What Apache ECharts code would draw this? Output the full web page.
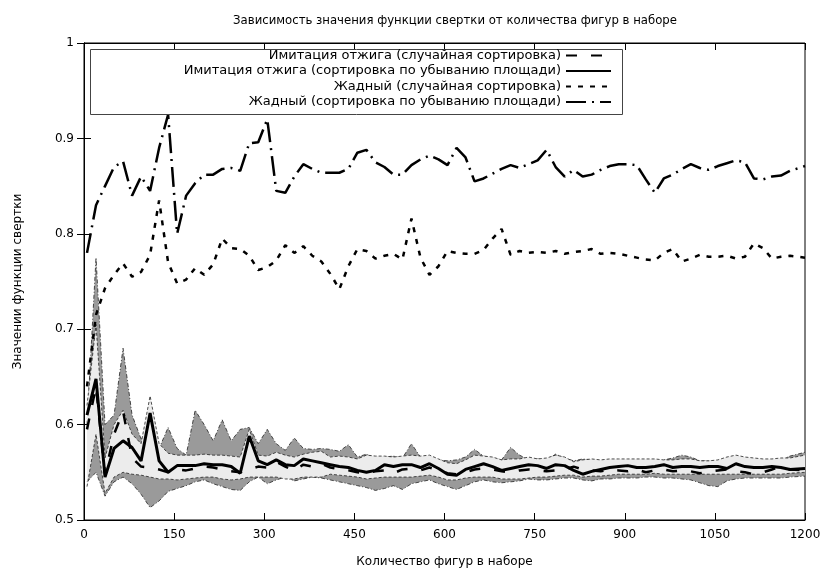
<!DOCTYPE html>
<html>
<head>
<meta charset="utf-8">
<script src="https://cdn.jsdelivr.net/npm/echarts@6/dist/echarts.min.js"></script>
<style>
  html, body { margin: 0; padding: 0; background: #fff; }
  #chart { width: 826px; height: 573px; }
</style>
</head>
<body>
<div id="chart"></div>
<script>
// Number of shapes in a set
const shapeCounts = [5, 20, 35, 50, 65, 80, 95, 110, 125, 140, 155, 170, 185, 200, 215, 230, 245, 260, 275, 290,
  305, 320, 335, 350, 365, 380, 395, 410, 425, 440, 455, 470, 485, 500, 515, 530, 545, 560, 575, 590,
  605, 620, 635, 650, 665, 680, 695, 710, 725, 740, 755, 770, 785, 800, 815, 830, 845, 860, 875, 890,
  905, 920, 935, 950, 965, 980, 995, 1010, 1025, 1040, 1055, 1070, 1085, 1100, 1115, 1130, 1145, 1160, 1175, 1200];

// Simulated annealing, random order
const annealRandom = [.595, .64, .548, .59, .614, .565, .556, .555, .553, .55, .553, .552, .554, .556, .555, .553, .551, .55, .553, .556,
  .555, .561, .556, .552, .558, .556, .559, .555, .553, .552, .55, .549, .551, .552, .549, .553, .554, .552, .555, .552,
  .549, .548, .55, .553, .554, .553, .551, .55, .552, .553, .552, .551, .552, .553, .556, .553, .552, .551, .553, .552,
  .551, .553, .55, .552, .553, .551, .552, .551, .549, .551, .552, .553, .551, .55, .548, .55, .553, .556, .553, .552];

// Simulated annealing, sorted by decreasing area
const annealSorted = [.61, .648, .545, .575, .583, .576, .562, .612, .562, .55, .557, .557, .557, .559, .558, .558, .556, .549, .588, .562,
  .558, .563, .558, .557, .564, .562, .56, .558, .556, .555, .552, .55, .552, .558, .556, .558, .558, .555, .559, .554,
  .548, .547, .553, .556, .559, .556, .552, .554, .556, .558, .557, .554, .558, .557, .552, .548, .551, .553, .555, .556,
  .557, .555, .555, .556, .558, .555, .556, .556, .555, .556, .556, .554, .559, .556, .555, .555, .556, .555, .553, .554];

// Greedy, random order
const greedyRandom = [.64, .715, .743, .757, .769, .755, .76, .778, .835, .77, .748, .752, .764, .757, .768, .795, .785, .784, .777, .762,
  .765, .772, .788, .78, .787, .777, .771, .758, .742, .766, .784, .782, .774, .777, .779, .773, .816, .775, .757, .766,
  .782, .78, .779, .779, .783, .795, .805, .778, .782, .78, .781, .78, .782, .779, .781, .782, .784, .779, .78, .779,
  .777, .775, .773, .772, .78, .784, .771, .774, .778, .776, .776, .777, .774, .776, .79, .785, .774, .776, .777, .775];

// Greedy, sorted by decreasing area
const greedySorted = [.78, .83, .85, .87, .876, .84, .86, .845, .89, .925, .80, .84, .853, .862, .862, .868, .869, .866, .895, .896,
  .92, .845, .843, .86, .873, .868, .864, .864, .864, .868, .885, .888, .875, .87, .862, .862, .872, .878, .882, .878,
  .872, .89, .88, .855, .858, .863, .868, .872, .869, .873, .877, .888, .87, .86, .867, .86, .862, .867, .871, .873,
  .873, .872, .857, .843, .858, .862, .868, .873, .869, .867, .871, .874, .877, .875, .858, .857, .86, .861, .866, .871];

// Spread of the annealing results (outer and inner bands)
const outerLow = [.54, .55, .525, .54, .545, .538, .527, .513, .52, .53, .533, .536, .54, .542, .538, .535, .532, .531, .54, .545,
  .538, .542, .545, .541, .543, .545, .544, .542, .54, .538, .536, .534, .531, .533, .536, .532, .538, .54, .542, .538,
  .535, .532, .536, .54, .542, .54, .539, .54, .541, .543, .542, .542, .543, .544, .544, .542, .541, .543, .543, .544,
  .544, .544, .545, .545, .544, .544, .543, .542, .539, .536, .535, .541, .543, .544, .544, .544, .544, .544, .545, .546];
const outerHigh = [.60, .775, .60, .61, .68, .61, .585, .60, .575, .597, .575, .568, .615, .60, .583, .605, .583, .595, .597, .58,
  .595, .58, .573, .586, .575, .574, .575, .574, .572, .579, .566, .569, .565, .566, .567, .565, .58, .566, .564, .563,
  .562, .563, .566, .574, .567, .565, .563, .576, .568, .563, .564, .563, .569, .565, .562, .564, .563, .562, .561, .562,
  .562, .561, .562, .561, .563, .565, .568, .566, .562, .562, .561, .565, .564, .562, .563, .561, .562, .563, .567, .571];
const innerLow = [.535, .59, .528, .545, .55, .548, .547, .545, .543, .543, .542, .543, .544, .545, .545, .543, .542, .543, .545, .545,
  .545, .545, .543, .543, .545, .545, .545, .548, .547, .546, .545, .543, .544, .545, .545, .545, .545, .546, .547, .545,
  .542, .542, .544, .545, .545, .545, .543, .543, .543, .544, .545, .545, .546, .547, .547, .545, .546, .546, .547, .548,
  .548, .548, .548, .549, .548, .548, .548, .548, .548, .548, .548, .548, .548, .548, .548, .548, .548, .548, .549, .55];
const innerHigh = [.62, .705, .565, .60, .615, .59, .58, .63, .58, .57, .568, .568, .568, .569, .568, .568, .567, .566, .595, .568,
  .567, .571, .568, .566, .569, .571, .572, .566, .567, .566, .564, .568, .567, .567, .566, .567, .568, .567, .568, .564,
  .56, .559, .563, .568, .567, .566, .563, .564, .564, .566, .564, .565, .568, .566, .561, .563, .564, .563, .564, .564,
  .564, .564, .564, .564, .563, .563, .564, .564, .562, .562, .563, .566, .568, .566, .565, .564, .564, .565, .565, .568];

const xTicks = { min: 0, max: 1200, step: 150 };
const yTicks = { min: 0.5, max: 1, step: 0.1 };

const FONT = 'DejaVu Sans';
const chart = echarts.init(document.getElementById('chart'), null, { renderer: 'canvas' });

const pairs = ys => ys.map((v, i) => [shapeCounts[i], v]);

// Filled band between two bound arrays, drawn with the grid's own scales
function bandSeries(name, low, high, fill, edgeDash) {
  return {
    name: name,
    type: 'custom',
    coordinateSystem: 'cartesian2d',
    silent: true,
    data: [[shapeCounts[0], low[0]]],
    renderItem: function (params, api) {
      const top = high.map((v, i) => api.coord([shapeCounts[i], v]));
      const bottom = low.map((v, i) => api.coord([shapeCounts[i], v]));
      const poly = top.concat(bottom.slice().reverse());
      const edge = { stroke: '#222', lineWidth: 0.8, lineDash: edgeDash, fill: null };
      return {
        type: 'group',
        children: [
          { type: 'polygon', shape: { points: poly }, style: { fill: fill, stroke: null } },
          { type: 'polyline', shape: { points: top }, style: edge },
          { type: 'polyline', shape: { points: bottom }, style: edge }
        ]
      };
    }
  };
}

function lineSeries(name, ys, width, dash) {
  return {
    name: name,
    type: 'line',
    data: pairs(ys),
    showSymbol: false,
    symbol: 'none',
    silent: true,
    lineStyle: { color: '#000', width: width, type: dash, cap: 'butt' },
    itemStyle: { color: '#000' }
  };
}

const names = [
  'Имитация отжига (случайная сортировка)',
  'Имитация отжига (сортировка по убыванию площади)',
  'Жадный (случайная сортировка)',
  'Жадный (сортировка по убыванию площади)'
];

const axisCommon = {
  axisLine: { show: true, lineStyle: { color: '#000', width: 1 } },
  axisTick: { show: true, inside: true, length: 7, lineStyle: { color: '#000', width: 1 } },
  splitLine: { show: false }
};

chart.setOption({
  animation: false,
  backgroundColor: '#fff',
  textStyle: { fontFamily: FONT, color: '#000' },
  title: {
    text: 'Зависимость значения функции свертки от количества фигур в наборе',
    left: 450,
    textAlign: 'center',
    top: 10,
    textStyle: { fontFamily: FONT, fontSize: 11.7, fontWeight: 'normal', color: '#000' }
  },
  grid: { left: 84, right: 21, top: 43, bottom: 50, show: true, borderColor: '#000', borderWidth: 1, backgroundColor: 'transparent' },
  xAxis: [
    Object.assign({
      type: 'value', min: xTicks.min, max: xTicks.max, interval: xTicks.step, position: 'bottom',
      name: 'Количество фигур в наборе', nameLocation: 'middle', nameGap: 36,
      nameTextStyle: { fontFamily: FONT, fontSize: 12, color: '#000' },
      axisLabel: { fontFamily: FONT, fontSize: 12, color: '#000', margin: 9, formatter: v => String(v) }
    }, axisCommon),
    Object.assign({
      type: 'value', min: xTicks.min, max: xTicks.max, interval: xTicks.step, position: 'top',
      axisLabel: { show: false }
    }, axisCommon)
  ],
  yAxis: [
    Object.assign({
      type: 'value', min: yTicks.min, max: yTicks.max, interval: yTicks.step, position: 'left',
      name: 'Значении функции свертки', nameLocation: 'middle', nameGap: 60,
      nameTextStyle: { fontFamily: FONT, fontSize: 12, color: '#000' },
      axisLabel: { fontFamily: FONT, fontSize: 12, color: '#000', margin: 10 }
    }, axisCommon),
    Object.assign({
      type: 'value', min: yTicks.min, max: yTicks.max, interval: yTicks.step, position: 'right',
      axisLabel: { show: false }
    }, axisCommon)
  ],
  legend: {
    data: names,
    orient: 'vertical',
    align: 'right',
    right: 214,
    top: 49,
    padding: 0,
    itemWidth: 45,
    itemHeight: 14,
    itemGap: 2.5,
    selectedMode: false,
    itemStyle: { opacity: 0, borderWidth: 0 },
    textStyle: { fontFamily: FONT, fontSize: 13, color: '#000' },
    z: 6
  },
  graphic: [{
    type: 'rect',
    shape: { x: 90.5, y: 49.5, width: 532, height: 65 },
    style: { fill: '#fff', stroke: '#444', lineWidth: 1 },
    z: 5,
    silent: true
  }],
  series: [
    bandSeries('outer', outerLow, outerHigh, '#9a9a9a', [4, 2, 1, 2]),
    bandSeries('inner', innerLow, innerHigh, '#ececec', [3, 2]),
    lineSeries(names[0], annealRandom, 2.5, [11, 14]),
    lineSeries(names[1], annealSorted, 3, 'solid'),
    lineSeries(names[2], greedyRandom, 2.5, [5, 7]),
    lineSeries(names[3], greedySorted, 2.5, [20, 6, 2, 6])
  ]
});
</script>
</body>
</html>
